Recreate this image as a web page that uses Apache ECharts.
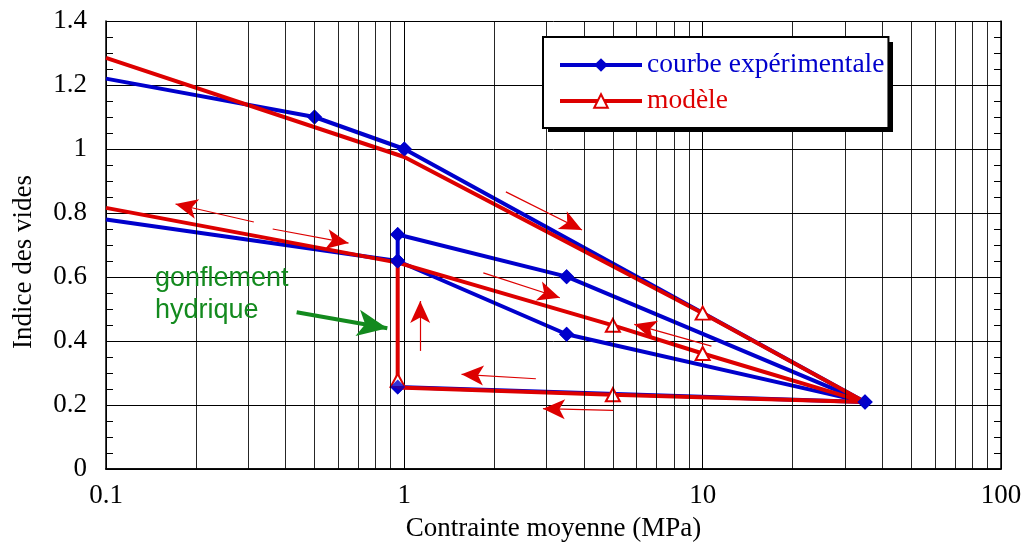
<!DOCTYPE html>
<html><head><meta charset="utf-8">
<script src="https://cdn.jsdelivr.net/npm/echarts@6/dist/echarts.min.js"></script>
<style>html,body{margin:0;padding:0;background:#fff}#c{width:1024px;height:544px}</style>
</head><body><div id="c"></div>
<script>
// ---------------- data ----------------
const xTickLabels = ['0.1', '1', '10', '100'];
const xMinorGrid = [0.2,0.3,0.4,0.5,0.6,0.7,0.8,0.9, 2,3,4,5,6,7,8,9, 20,30,40,50,60,70,80,90];

// experimental curve (two continuous paths)
const blueAX = [0.1, 0.5, 1, 35, 0.95];
const blueAY = [1.22, 1.10, 1.00, 0.209, 0.256];
const blueAMark = [0, 1, 1, 1, 1];
const blueBX = [0.1, 0.95, 3.5, 35, 3.5, 0.95, 0.95];
const blueBY = [0.78, 0.65, 0.421, 0.209, 0.601, 0.733, 0.65];
const blueBMark = [0, 1, 1, 1, 1, 1, 1];

// model (two continuous paths)
const redAX = [0.1, 1, 10, 35, 5, 0.95, 0.95, 0.95, 5, 10, 35];
const redAY = [1.285, 0.975, 0.487, 0.209, 0.232, 0.255, 0.277, 0.645, 0.449, 0.361, 0.209];
const redAMark = [0, 0, 1, 0, 1, 0, 1, 0, 1, 1, 0];
const redBX = [0.1, 0.95];
const redBY = [0.816, 0.645];
const redBMark = [0, 0];

// annotation arrows: [tail, head] in data units
const redArrows = [
  [[0.313, 0.772], [0.171, 0.828]],
  [[0.362, 0.750], [0.650, 0.706]],
  [[2.19, 0.866], [3.94, 0.747]],
  [[1.84, 0.613], [3.32, 0.535]],
  [[1.13, 0.369], [1.13, 0.525]],
  [[10.7, 0.384], [5.90, 0.452]],
  [[2.76, 0.282], [1.555, 0.296]],
  [[5.01, 0.183], [2.915, 0.1885]]
];
const greenArrow = [[0.4355, 0.49], [0.877, 0.44]];
const noteText = 'gonflement\nhydrique';

// ---------------- styles ----------------
const BLUE = '#0000CC', RED = '#DD0000', GREEN = '#138A1E';
const SERIF = 'Liberation Serif';

function pathData(xs, ys, marks) {
  return xs.map((x, i) => marks[i] ? { value: [x, ys[i]] } : { value: [x, ys[i]], symbol: 'none' });
}
function markedPts(xs, ys, marks) {
  const out = [];
  xs.forEach((x, i) => { if (marks[i]) out.push([x, ys[i]]); });
  return out;
}

const blueLine = (data) => ({
  type: 'line', name: 'courbe expérimentale', data, z: 2,
  symbol: 'diamond', symbolSize: 15, showAllSymbol: true,
  lineStyle: { color: BLUE, width: 4 }, itemStyle: { color: BLUE },
  animation: false, silent: true
});
const redLine = (data) => ({
  type: 'line', name: 'modèle', data, z: 3,
  symbol: 'emptyTriangle', symbolSize: [14, 13], showAllSymbol: true,
  lineStyle: { color: RED, width: 4 }, itemStyle: { color: RED, borderWidth: 1.3 },
  animation: false, silent: true
});

const chart = echarts.init(document.getElementById('c'), null, { renderer: 'canvas' });
const axisFont = { fontFamily: SERIF, fontSize: 27, color: '#000' };

chart.setOption({
  animation: false,
  grid: { left: 106, top: 21, width: 895, height: 448, containLabel: false, outerBoundsMode: 'none' },
  legend: {
    data: [
      { name: 'courbe expérimentale', textStyle: { color: BLUE } },
      { name: 'modèle', textStyle: { color: RED } }
    ],
    orient: 'vertical', left: 543, top: 37, z: 6,
    itemWidth: 82, itemHeight: 17, itemGap: 8,
    padding: [14, 4, 13, 15],
    lineStyle: { width: 4 },
    textStyle: { fontFamily: SERIF, fontSize: 27.5 },
    backgroundColor: '#fff', borderColor: '#000', borderWidth: 2,
    selectedMode: false
  },
  xAxis: [{
    type: 'log', logBase: 10, min: 0.1, max: 100, position: 'bottom',
    name: 'Contrainte moyenne (MPa)', nameLocation: 'middle', nameGap: 46,
    nameTextStyle: axisFont,
    axisLine: { show: true, lineStyle: { color: '#000', width: 1.5 } },
    axisTick: { show: false },
    axisLabel: { ...axisFont, margin: 13,
      formatter: v => xTickLabels[Math.round(Math.log10(v)) + 1] },
    splitLine: { show: true, lineStyle: { color: '#000', width: 1 } }
  }, {
    type: 'log', logBase: 10, min: 0.1, max: 100, position: 'top',
    axisLine: { show: true, lineStyle: { color: '#000', width: 1.5 } },
    axisTick: { show: false }, axisLabel: { show: false }, splitLine: { show: false }
  }],
  yAxis: [{
    type: 'value', min: 0, max: 1.4, interval: 0.2, position: 'left',
    name: 'Indice des vides', nameLocation: 'middle', nameGap: 69,
    nameTextStyle: { ...axisFont, padding: [0, 34, 0, 0] },
    axisLine: { show: true, lineStyle: { color: '#000', width: 1.5 } },
    axisTick: { show: true, inside: true, length: 7, lineStyle: { color: '#000' } },
    minorTick: { show: true, splitNumber: 4, length: 7, lineStyle: { color: '#000', width: 1 } },
    axisLabel: { ...axisFont, margin: 19 },
    splitLine: { show: true, lineStyle: { color: '#000', width: 1 } }
  }, {
    type: 'value', min: 0, max: 1.4, interval: 0.2, position: 'right',
    axisLine: { show: true, lineStyle: { color: '#000', width: 1.5 } },
    axisTick: { show: true, inside: true, length: 7, lineStyle: { color: '#000' } },
    minorTick: { show: true, splitNumber: 4, length: 7, lineStyle: { color: '#000', width: 1 } },
    axisLabel: { show: false }, splitLine: { show: false }
  }],
  graphic: [{
    // drop shadow of the legend box
    type: 'rect', z: 5, silent: true,
    shape: { x: 548, y: 42, width: 345, height: 90 },
    style: { fill: '#000' }
  }, {
    type: 'text', left: 155, top: 263, z: 10,
    style: { text: noteText, font: '27px "Liberation Sans"', fill: GREEN, lineHeight: 32 }
  }],
  series: [
    { // minor vertical grid lines of the log axis
      type: 'line', name: '_grid', data: [], z: 1, silent: true,
      markLine: {
        silent: true, symbol: ['none', 'none'], animation: false,
        label: { show: false },
        lineStyle: { color: '#000', width: 1, type: 'solid', opacity: 0.85 },
        data: xMinorGrid.map(v => ({ xAxis: v }))
      }
    },
    blueLine(pathData(blueAX, blueAY, blueAMark)),
    blueLine(pathData(blueBX, blueBY, blueBMark)),
    redLine(pathData(redAX, redAY, redAMark)),
    redLine(pathData(redBX, redBY, redBMark)),
    { // diamonds drawn above the model lines
      type: 'scatter', name: '_pts', z: 4, silent: true, animation: false,
      symbol: 'diamond', symbolSize: 15, itemStyle: { color: BLUE },
      data: markedPts(blueAX, blueAY, blueAMark).concat(markedPts(blueBX, blueBY, blueBMark))
    },
    { // red direction arrows
      type: 'line', name: '_arrows', data: [], z: 5, silent: true,
      markLine: {
        silent: true, animation: false, symbol: ['none', 'arrow'], symbolSize: [15, 22],
        label: { show: false },
        lineStyle: { color: RED, width: 1.2, type: 'solid' },
        itemStyle: { color: RED },
        emphasis: { disabled: true },
        data: redArrows.map(a => [{ coord: a[0] }, { coord: a[1] }])
      }
    },
    { // green arrow
      type: 'line', name: '_green', data: [], z: 5, silent: true,
      markLine: {
        silent: true, animation: false, symbol: ['none', 'arrow'], symbolSize: [20, 30],
        label: { show: false },
        lineStyle: { color: GREEN, width: 4, type: 'solid' },
        itemStyle: { color: GREEN },
        emphasis: { disabled: true },
        data: [[{ coord: greenArrow[0] }, { coord: greenArrow[1] }]]
      }
    }
  ]
});
</script>
</body></html>
